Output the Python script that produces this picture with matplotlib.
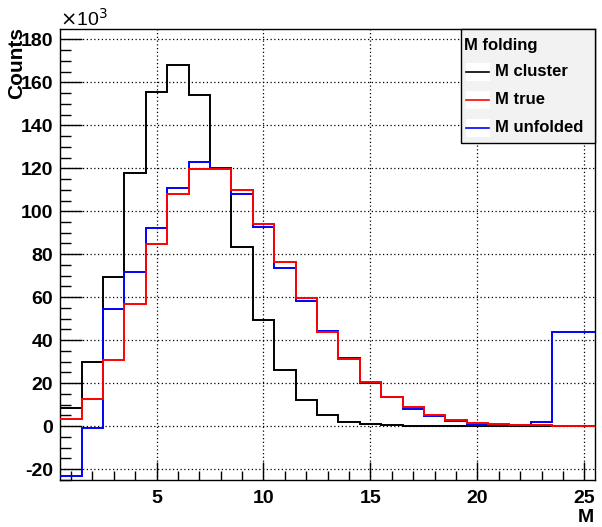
import numpy as np
import matplotlib
matplotlib.use("Agg")
import matplotlib.pyplot as plt
from matplotlib.ticker import MultipleLocator
from matplotlib.patches import Rectangle
from matplotlib.lines import Line2D

# bins of M (integer multiplicity), counts in units of 10^3
m_bins = np.arange(1, 26)
m_cluster = [8.5, 30.0, 69.2, 118.0, 155.6, 168.0, 154.0, 120.3, 83.2, 49.4,
             26.1, 12.0, 5.3, 1.9, 1.1, 0.5, 0.2, 0.1, 0.05, 0.0,
             0.0, 0.0, 0.0, 0.0, 0.0]
m_true = [3.1, 12.7, 30.8, 56.7, 84.7, 108.2, 119.7, 119.6, 109.7, 94.0,
          76.6, 59.4, 43.8, 31.1, 20.7, 13.5, 8.7, 5.0, 2.9, 1.5,
          1.0, 0.7, 0.3, 0.1, 0.0]
m_unfolded = [-23.3, -1.1, 54.4, 71.5, 92.4, 111.0, 122.7, 120.0, 108.0, 92.7,
              73.5, 58.0, 44.1, 31.9, 20.0, 13.7, 7.9, 4.7, 2.2, 0.5,
              0.3, 0.3, 1.9, 43.8, 43.8]

labels = ["M cluster", "M true", "M unfolded"]
colors = ["black", "#ff0000", "#0000ff"]

plt.rcParams['font.family'] = ['Liberation Sans', 'DejaVu Sans']

W, H = 602, 527
fig = plt.figure(figsize=(W / 100, H / 100), dpi=100)
ax = fig.add_axes([60.3 / W, 1 - 480 / H, (595 - 60.3) / W, (480 - 29.3) / H])

edges = np.append(m_bins - 0.5, m_bins[-1] + 0.5)
series = {"M cluster": m_cluster, "M true": m_true, "M unfolded": m_unfolded}
# draw order: cluster, unfolded, true on top
for name in ["M cluster", "M unfolded", "M true"]:
    c = colors[labels.index(name)]
    ax.stairs(series[name], edges, baseline=None, color=c, lw=1.4, zorder=3)

ax.set_xlim(0.5, 25.5)
ax.set_ylim(-25.1, 184.7)

ax.xaxis.set_major_locator(MultipleLocator(5))
ax.xaxis.set_minor_locator(MultipleLocator(1))
ax.yaxis.set_major_locator(MultipleLocator(20))
ax.yaxis.set_minor_locator(MultipleLocator(5))
ax.yaxis.set_major_formatter(plt.FuncFormatter(lambda v, p: "%d" % round(v)))

ax.tick_params(axis='both', which='both', direction='in', top=False, right=False,
               width=1, color='black')
ax.tick_params(axis='x', which='major', length=13, pad=7, labelsize=14)
ax.tick_params(axis='x', which='minor', length=6.5)
ax.tick_params(axis='y', which='major', length=16, pad=5, labelsize=14)
ax.tick_params(axis='y', which='minor', length=8)
for lab in ax.get_xticklabels() + ax.get_yticklabels():
    lab.set_fontweight('bold')

ax.grid(True, which='major', color='black', linestyle=(0, (1, 2)), lw=0.9)
ax.set_axisbelow(True)
for s in ax.spines.values():
    s.set_linewidth(1.0)
    s.set_color('black')

# axis titles (ROOT style)
fig.text(17 / W, 1 - 27 / H, "Counts", rotation=90, ha='center', va='top',
         fontsize=15, fontweight='bold')
fig.text(594 / W, 1 - 522 / H, "M", ha='right', va='baseline',
         fontsize=14, fontweight='bold')
fig.text(60 / W, 1 - 26 / H, r"$\times$10$^{3}$", ha='left', va='baseline',
         fontsize=14)

# legend box
lx0, lx1, ly0, ly1 = 461, 595, 29.3, 143
fig.patches.append(Rectangle((lx0 / W, 1 - ly1 / H), (lx1 - lx0) / W, (ly1 - ly0) / H,
                             transform=fig.transFigure, facecolor='#f2f2f2',
                             edgecolor='black', lw=1.0, zorder=5))
fig.text(464 / W, 1 - 50 / H, "M folding", ha='left', va='baseline',
         fontsize=12, fontweight='bold', zorder=6)
row_y = [72, 100, 128]
for name, c, yy in zip(labels, colors, row_y):
    fig.patches.append(Rectangle((466 / W, 1 - (yy + 9) / H), 24 / W, 18 / H,
                                 transform=fig.transFigure, facecolor='white',
                                 edgecolor='none', zorder=6))
    fig.lines.append(Line2D([466 / W, 489 / W], [1 - yy / H, 1 - yy / H],
                            transform=fig.transFigure, color=c, lw=1.2, zorder=7))
    fig.text(495 / W, 1 - yy / H, name, ha='left', va='center',
             fontsize=12, fontweight='bold', zorder=7)

fig.savefig("out.png", dpi=100)
